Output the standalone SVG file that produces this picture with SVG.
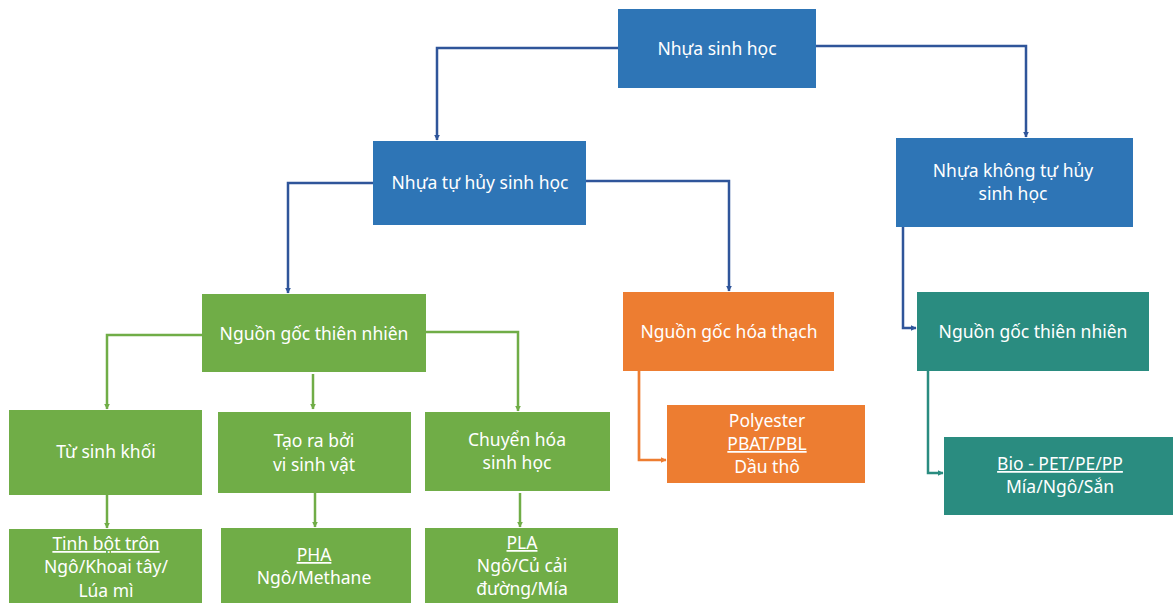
<svg xmlns="http://www.w3.org/2000/svg" width="1173" height="603" viewBox="0 0 1173 603">
<defs>
<style>
text{font-family:"Noto Sans","Open Sans","DejaVu Sans",sans-serif;font-size:17.5px;fill:#ffffff;text-anchor:middle}
.u{text-decoration:underline}
.blue{fill:#2E75B6}
.green{fill:#70AD47}
.orange{fill:#ED7D31}
.teal{fill:#2A8C80}
.cb{fill:none;stroke:#2F559A;stroke-width:2.5}
.cg{fill:none;stroke:#70AD47;stroke-width:2.5}
.co{fill:none;stroke:#ED7D31;stroke-width:2.7}
.ct{fill:none;stroke:#2A8C80;stroke-width:2.5}
</style>
<marker id="ab" viewBox="0 0 10 10" refX="9" refY="5" markerWidth="6" markerHeight="6" orient="auto" markerUnits="userSpaceOnUse"><path d="M0,0L10,5L0,10z" fill="#2F559A"/></marker>
<marker id="ag" viewBox="0 0 10 10" refX="9" refY="5" markerWidth="6" markerHeight="6" orient="auto" markerUnits="userSpaceOnUse"><path d="M0,0L10,5L0,10z" fill="#70AD47"/></marker>
<marker id="ao" viewBox="0 0 10 10" refX="9" refY="5" markerWidth="6" markerHeight="6" orient="auto" markerUnits="userSpaceOnUse"><path d="M0,0L10,5L0,10z" fill="#ED7D31"/></marker>
<marker id="at" viewBox="0 0 10 10" refX="9" refY="5" markerWidth="6" markerHeight="6" orient="auto" markerUnits="userSpaceOnUse"><path d="M0,0L10,5L0,10z" fill="#2A8C80"/></marker>
</defs>
<rect width="1173" height="603" fill="#ffffff"/>
<g id="connectors">
<path class="cb" d="M618,48H437V140" marker-end="url(#ab)"/>
<path class="cb" d="M816,46H1026V137" marker-end="url(#ab)"/>
<path class="cb" d="M373,183H288V293" marker-end="url(#ab)"/>
<path class="cb" d="M586,181H729V291" marker-end="url(#ab)"/>
<path class="cb" d="M903,227V328H916" marker-end="url(#ab)"/>
<path class="cg" d="M202,335H107V409" marker-end="url(#ag)"/>
<path class="cg" d="M313,374V409" marker-end="url(#ag)"/>
<path class="cg" d="M426,332H518V411" marker-end="url(#ag)"/>
<path class="cg" d="M107,495V528" marker-end="url(#ag)"/>
<path class="cg" d="M315,493V527" marker-end="url(#ag)"/>
<path class="cg" d="M520,493V527" marker-end="url(#ag)"/>
<path class="co" d="M639,371V460H666" marker-end="url(#ao)"/>
<path class="ct" d="M928,371V473H943" marker-end="url(#at)"/>
</g>
<g id="n-nhua-sinh-hoc"><rect class="blue" x="618" y="9" width="198" height="79"/><text x="717" y="55">Nhựa sinh học</text></g>
<g id="n-tu-huy"><rect class="blue" x="373" y="141" width="213" height="84"/><text x="480" y="189">Nhựa tự hủy sinh học</text></g>
<g id="n-khong-tu-huy"><rect class="blue" x="896" y="138" width="237" height="89"/><text x="1013" y="177">Nhựa không tự hủy</text><text x="1013" y="200">sinh học</text></g>
<g id="n-ngtn-green"><rect class="green" x="202" y="294" width="224" height="78"/><text x="314" y="340">Nguồn gốc thiên nhiên</text></g>
<g id="n-nght"><rect class="orange" x="623" y="292" width="211" height="79"/><text x="729" y="338">Nguồn gốc hóa thạch</text></g>
<g id="n-ngtn-teal"><rect class="teal" x="917" y="292" width="232" height="79"/><text x="1033" y="338">Nguồn gốc thiên nhiên</text></g>
<g id="n-tu-sinh-khoi"><rect class="green" x="9" y="410" width="193" height="85"/><text x="106" y="458">Từ sinh khối</text></g>
<g id="n-tao-ra"><rect class="green" x="218" y="412" width="193" height="81"/><text x="314" y="447">Tạo ra bởi</text><text x="314" y="471">vi sinh vật</text></g>
<g id="n-chuyen-hoa"><rect class="green" x="425" y="412" width="185" height="79"/><text x="517" y="446">Chuyển hóa</text><text x="517" y="469">sinh học</text></g>
<g id="n-tinh-bot"><rect class="green" x="9" y="529" width="193" height="80"/><text class="u" x="106" y="550">Tinh bột trôn</text><text x="106" y="573">Ngô/Khoai tây/</text><text x="106" y="597">Lúa mì</text></g>
<g id="n-pha"><rect class="green" x="221" y="528" width="190" height="80"/><text class="u" x="314" y="561">PHA</text><text x="314" y="584">Ngô/Methane</text></g>
<g id="n-pla"><rect class="green" x="425" y="528" width="193" height="80"/><text class="u" x="522" y="549">PLA</text><text x="522" y="572">Ngô/Củ cải</text><text x="522" y="595">đường/Mía</text></g>
<g id="n-polyester"><rect class="orange" x="667" y="405" width="198" height="78"/><text x="767" y="427">Polyester</text><text class="u" x="767" y="450">PBAT/PBL</text><text x="767" y="473">Dầu thô</text></g>
<g id="n-bio"><rect class="teal" x="944" y="437" width="229" height="78"/><text class="u" x="1060" y="470">Bio - PET/PE/PP</text><text x="1060" y="493">Mía/Ngô/Sắn</text></g>
</svg>
